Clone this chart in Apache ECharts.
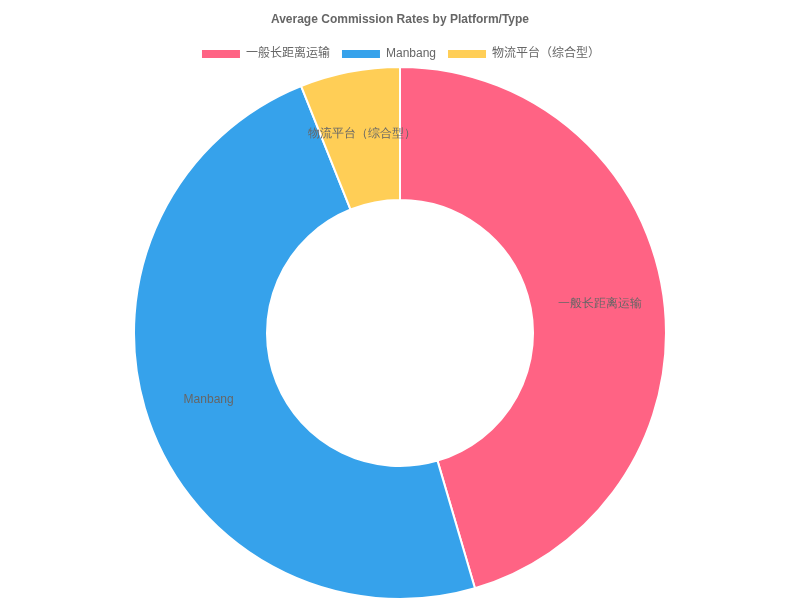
<!DOCTYPE html>
<html><head><meta charset="utf-8">
<script src="https://cdn.jsdelivr.net/npm/echarts@6/dist/echarts.min.js"></script>
<style>html,body{margin:0;padding:0;background:#fff}#c{width:800px;height:600px}</style>
</head><body><div id="c"></div>
<script>
const categories = ['一般长距离运输', 'Manbang', '物流平台（综合型）'];
const values = [7.5, 8, 1];
const colors = ['#FF6384', '#36A2EB', '#FFCE56'];
const chart = echarts.init(document.getElementById('c'));
chart.setOption({
  animation: false,
  title: { text: 'Average Commission Rates by Platform/Type', left: 'center', top: 9,
    textStyle: { fontSize: 12, fontWeight: 'bold', color: '#666', fontFamily: 'Liberation Sans, Arial' } },
  legend: { top: 43, left: 'center', itemWidth: 40, itemHeight: 10, itemGap: 10, icon: 'rect',
    textStyle: { fontSize: 12, color: '#666', fontFamily: 'Liberation Sans, Noto Sans CJK SC' },
    data: categories },
  series: [{
    type: 'pie', center: [400, 333], radius: [133, 266], startAngle: 90, clockwise: true,
    itemStyle: { borderColor: '#fff', borderWidth: 2 },
    label: { position: 'inside', color: '#666', fontSize: 12, fontFamily: 'Liberation Sans, Arial' },
    labelLine: { show: false },
    emphasis: { disabled: true },
    data: categories.map((n, i) => ({ name: n, value: values[i], itemStyle: { color: colors[i] } }))
  }]
});
</script></body></html>
